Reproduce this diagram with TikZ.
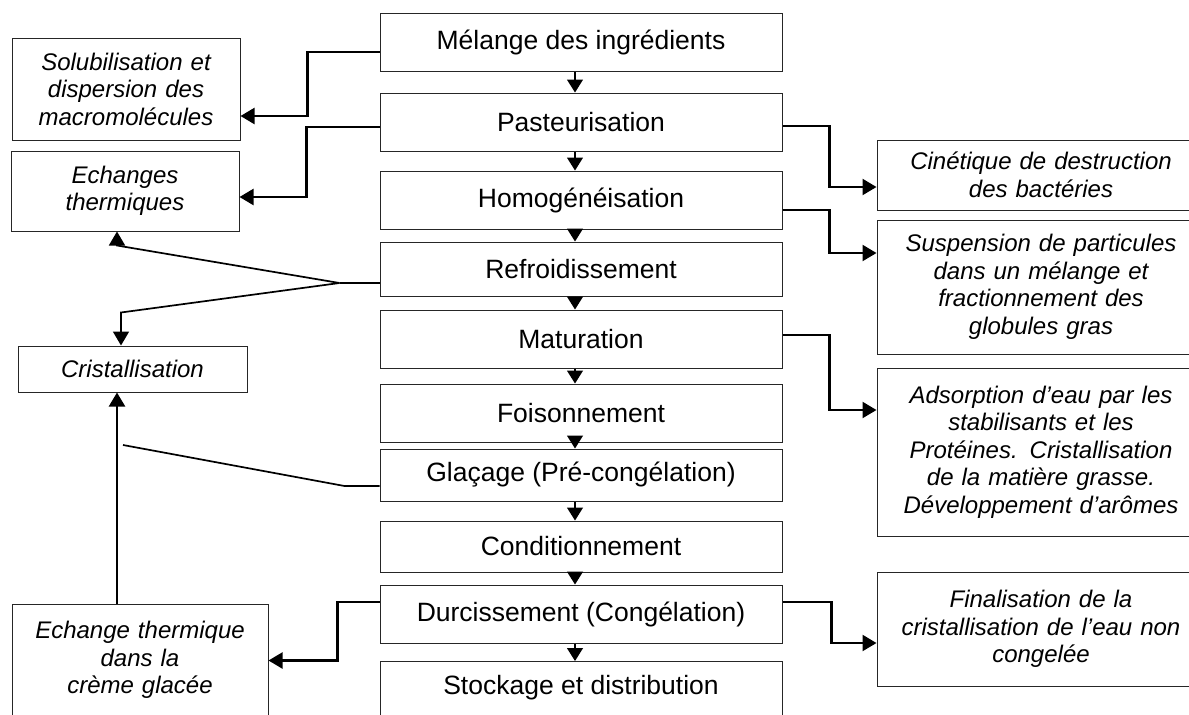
\documentclass[tikz,border=0pt]{standalone}
\usepackage{fontspec}
\setmainfont{Liberation Sans}
\usetikzlibrary{arrows.meta}

\begin{document}
\begin{tikzpicture}[x=1pt, y=-1pt,
    stage/.style={draw=black!85, line width=1pt, minimum width=402pt, inner sep=0pt,
        font=\fontsize{26.5}{30}\selectfont},
    note/.style={draw=black!85, line width=1pt, inner sep=0pt, align=center,
        font=\fontsize{24}{27.5}\selectfont\itshape},
    link/.style={line width=2.2pt},
    slim/.style={line width=1.7pt},
    headed/.style={-{Triangle[width=16pt,length=14pt]}},
    flow/.style={line width=1.2pt, -{Triangle[width=16pt,length=13pt]}}]

    % Page frame
    \useasboundingbox (0,0) rectangle (1189,715);
    \fill[white] (0,0) rectangle (1189,715);
    \clip (0,0) rectangle (1189,715);

    % Process steps
    \node[stage, minimum height=58pt] (mel) at (581,42) {Mélange des ingrédients};
    \node[stage, minimum height=58pt] (past) at (581,122) {Pasteurisation};
    \node[stage, minimum height=58pt] (homo) at (581,200) {Homogénéisation};
    \node[stage, minimum height=54pt] (refr) at (581,269) {Refroidissement};
    \node[stage, minimum height=58pt] (matu) at (581,339) {Maturation};
    \node[stage, minimum height=58pt] (fois) at (581,413) {Foisonnement};
    \node[stage, minimum height=52pt] (glac) at (581,475) {Glaçage (Pré-congélation)};
    \node[stage, minimum height=51pt] (cond) at (581,546.5) {Conditionnement};
    \node[stage, minimum height=58pt] (durc) at (581,614) {Durcissement (Congélation)};
    \node[stage, anchor=north, text height=33pt, text depth=40pt] (stock) at (581,661) {Stockage et distribution};

    \foreach \a/\b in {mel/past, past/homo, homo/refr, refr/matu, matu/fois,
                       fois/glac, glac/cond, cond/durc, durc/stock}
        \draw[flow] ([xshift=-6pt]\a.south) -- ([xshift=-6pt]\b.north);

    % Phenomena, left
    \node[note, text width=228pt, minimum height=102pt] (solu) at (126,89)
        {Solubilisation et\\dispersion des\\macromolécules};
    \node[note, text width=228pt, minimum height=80pt] (echa) at (125,191)
        {Echanges\\thermiques};
    \node[note, text width=229pt, minimum height=46pt] (cris) at (132.5,369)
        {Cristallisation};
    \node[note, text width=256pt, anchor=north, text height=34pt, text depth=92pt] (echg) at (140,604)
        {Echange thermique\\dans la\\crème glacée};

    % Phenomena, right
    \node[note, text width=328pt, minimum height=70pt] (cine) at (1041,175)
        {Cinétique de destruction\\des bactéries};
    \node[note, text width=328pt, minimum height=134pt] (susp) at (1041,287)
        {Suspension de particules\\dans un mélange et\\fractionnement des\\globules gras};
    \node[note, text width=328pt, minimum height=168pt] (adso) at (1041,452)
        {Adsorption d’eau par les\\stabilisants et les\\Protéines. Cristallisation\\de la matière grasse.\\Développement d’arômes};
    \node[note, text width=328pt, minimum height=114pt] (fina) at (1041,629)
        {Finalisation de la\\cristallisation de l’eau non\\congelée};

    % Links to the left
    \draw[link, headed] ([yshift=-10pt]mel.west) -- ++(-72,0) |- ([yshift=-27pt]solu.east);
    \draw[link, headed] ([yshift=-5pt]past.west) -- ++(-73,0) |- ([yshift=-6pt]echa.east);
    \draw[link] ([yshift=-14pt]refr.west) -- ++(-40,0) coordinate (fork);
    \draw[slim, headed] (fork) -- ([xshift=-8pt, yshift=-14pt]echa.south) -- ([xshift=-8pt]echa.south);
    \draw[slim, headed] (fork) -- ([xshift=-11.5pt, yshift=33pt]cris.north) -- ([xshift=-11.5pt]cris.north);
    \coordinate (gend) at (123,445);
    \draw[slim] ([yshift=-11pt]glac.west) -- ++(-35,0) -- (gend);
    \draw[link, headed] ([xshift=-23pt]echg.north) -- ([xshift=-23pt]echg.north |- cris.south);
    \draw[link, headed] ([yshift=12pt]durc.west) -- ++(-42,0) |- ([yshift=7pt]echg.east);

    % Links to the right
    \draw[link, headed] ([yshift=-4pt]past.east) -- ++(47,0) |- ([yshift=-12pt]cine.west);
    \draw[link, headed] ([yshift=-10pt]homo.east) -- ++(47,0) |- ([yshift=34pt]susp.west);
    \draw[link, headed] ([yshift=4pt]matu.east) -- ++(47,0) |- ([yshift=42pt]adso.west);
    \draw[link, headed] ([yshift=12pt]durc.east) -- ++(49,0) |- ([yshift=-14pt]fina.west);

\end{tikzpicture}
\end{document}
